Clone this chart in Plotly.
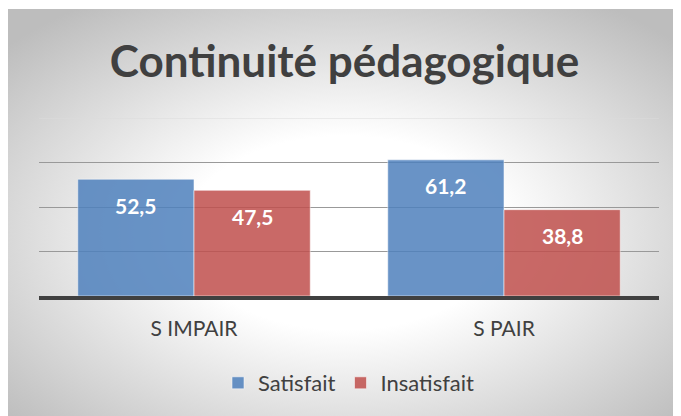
import base64
import plotly.graph_objects as go

# ---- data ----
categories = ["S IMPAIR", "S PAIR"]
series_names = ["Satisfait", "Insatisfait"]
satisfait = [52.5, 61.2]
insatisfait = [47.5, 38.8]
title_text = "Continuité pédagogique"
grid_vals = [20, 40, 60]
y_max = 80

colors = ["rgb(79,129,189)", "rgb(192,80,77)"]

# page has an 8px body margin -> figure is drawn at (8, 8)
W, H = 673, 408
ML, MR, MT, MB = 31, 22, 110, 120
PW, PH = W - ML - MR, H - MT - MB

fig = go.Figure()
for name, vals, col in zip(series_names, [satisfait, insatisfait], colors):
    fig.add_trace(go.Bar(
        x=categories, y=vals, name=name,
        marker=dict(color=col, line=dict(color="rgba(255,255,255,0.55)", width=1)),
        opacity=0.85,
    ))

# data labels (inside end, comma decimal)
bargap = 0.25
bw = (1 - bargap) / 2
for si, vals in enumerate([satisfait, insatisfait]):
    off = -bw / 2 if si == 0 else bw / 2
    for ci, v in enumerate(vals):
        fig.add_annotation(
            x=ci + off, y=v, xref="x", yref="y",
            text=f"{v:.1f}".replace(".", ","),
            showarrow=False, yanchor="middle", yshift=-26,
            font=dict(family="Lato", size=21, color="white", weight="bold"),
        )

# radial gradient background
svg = (
    '<svg xmlns="http://www.w3.org/2000/svg" width="673" height="407" '
    'viewBox="0 0 673 407" preserveAspectRatio="none">'
    '<defs><radialGradient id="g" cx="50%" cy="55%" r="68%" fx="50%" fy="55%">'
    '<stop offset="0" stop-color="#ffffff"/>'
    '<stop offset="0.35" stop-color="#ffffff"/>'
    '<stop offset="1" stop-color="#bdbdbd"/>'
    '</radialGradient></defs>'
    '<rect width="673" height="407" fill="url(#g)"/></svg>'
)
src = "data:image/svg+xml;base64," + base64.b64encode(svg.encode()).decode()
x0 = (0 - ML) / PW
x1 = (W - ML) / PW
y1 = (MT + PH - 1) / PH
y0 = (MT + PH - H) / PH
fig.add_layout_image(
    source=src, xref="paper", yref="paper", x=x0, y=y1,
    sizex=x1 - x0, sizey=y1 - y0, sizing="stretch",
    xanchor="left", yanchor="top", layer="below",
)

fig.add_shape(type="line", xref="paper", yref="y", x0=0, x1=1, y0=y_max, y1=y_max,
              line=dict(color="#dcdcdc", width=1), layer="below")

fig.update_layout(
    width=W, height=H,
    margin=dict(l=ML, r=MR, t=MT, b=MB),
    paper_bgcolor="white", plot_bgcolor="rgba(0,0,0,0)",
    barmode="group", bargap=bargap, bargroupgap=0,
    title=dict(text=title_text, x=0.5, xanchor="center", xref="container",
               y=1 - 54 / H, yref="container", yanchor="middle",
               font=dict(family="Lato", size=44, color="#404040", weight="bold")),
    font=dict(family="Lato", color="#404040"),
    showlegend=True,
    legend=dict(orientation="h", x=0.5, xanchor="center", xref="paper",
                y=1 - 375 / H, yref="container", yanchor="middle",
                font=dict(family="Lato", size=22, color="#404040"),
                bgcolor="rgba(0,0,0,0)", traceorder="normal"),
)
fig.update_xaxes(showline=True, linecolor="#404040", linewidth=4, ticks="",
                 showgrid=False, tickfont=dict(family="Lato", size=21, color="#404040"),
                 ticklabelstandoff=11)
fig.update_yaxes(range=[0, y_max], tickvals=grid_vals, showticklabels=False,
                 showgrid=True, gridcolor="#999999", gridwidth=1, zeroline=False,
                 showline=False)

fig.write_html("out.html")
